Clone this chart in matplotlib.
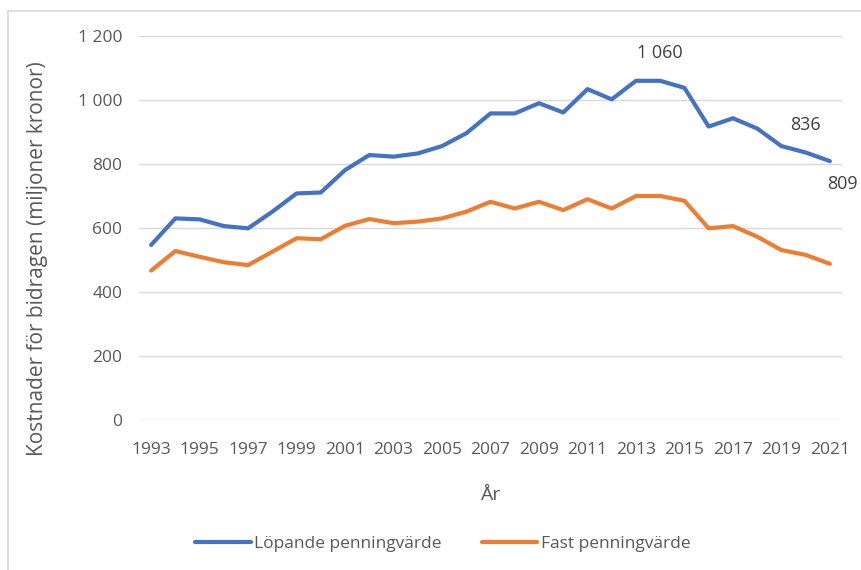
import matplotlib.pyplot as plt
from matplotlib.lines import Line2D
from matplotlib.ticker import FuncFormatter

plt.rcParams['font.family'] = ['Open Sans', 'DejaVu Sans']

years = list(range(1993, 2022))
lopande = [547, 630, 627, 606, 599, 651, 708, 711, 781, 828, 823, 833, 856, 896,
           958, 958, 990, 961, 1034, 1002, 1060, 1060, 1038, 917, 943, 911, 856, 836, 809]
fast = [467, 528, 510, 493, 484, 526, 568, 565, 607, 628, 615, 620, 630, 651,
        682, 661, 682, 656, 690, 661, 700, 700, 685, 599, 606, 573, 531, 516, 488]
year_ticks = list(range(1993, 2022, 2))
y_ticks = [0, 200, 400, 600, 800, 1000, 1200]
labelled = {2014: ('1 060', 28), 2020: ('836', 27), 2021: ('809', -23)}

blue = '#4472C4'
orange = '#ED7D31'
txt = '#595959'

fig = plt.figure(figsize=(8.62, 5.7), dpi=100)
ax = fig.add_axes([139 / 862, 1 - 420 / 570, (842 - 139) / 862, (420 - 36) / 570])

ax.plot(years, lopande, color=blue, lw=3, solid_capstyle='round', label='Löpande penningvärde')
ax.plot(years, fast, color=orange, lw=3, solid_capstyle='round', label='Fast penningvärde')

ax.set_xlim(1992.5, 2021.5)
ax.set_ylim(0, 1200)
ax.set_xticks(year_ticks)
ax.set_yticks(y_ticks)
ax.yaxis.set_major_formatter(FuncFormatter(lambda v, p: f'{int(v):,}'.replace(',', ' ')))
ax.grid(axis='y', color='#D9D9D9', lw=1)
ax.set_axisbelow(True)
for s in ax.spines.values():
    s.set_visible(False)
ax.tick_params(length=0, labelsize=12.5, labelcolor=txt)
ax.tick_params(axis='x', pad=16)
ax.tick_params(axis='y', pad=12)

for yr, (lab, off) in labelled.items():
    val = lopande[years.index(yr)]
    dx = 13 if yr == 2021 else 0
    ax.annotate(lab, (yr, val), xytext=(dx * 0.72, off * 0.72), textcoords='offset points',
                ha='center', va='center', fontsize=13, color='#404040', annotation_clip=False)

ax.set_xlabel('År', fontsize=14, color=txt, labelpad=20)
fig.text(38 / 862, 1 - 259 / 570, 'Kostnader för bidragen (miljoner kronor)', rotation=90,
         ha='center', va='center', fontsize=15, color=txt)

fig.legend(loc='center', bbox_to_anchor=(443 / 862, 1 - 544 / 570), ncol=2, frameon=False,
           fontsize=12.5, labelcolor=txt, handlelength=3.2, handletextpad=0.2, columnspacing=2.3)

# chart border (cut by image edges)
fig.add_artist(Line2D([8 / 862, 8 / 862], [0, 1 - 11 / 570], color='#D9D9D9', lw=1.2))
fig.add_artist(Line2D([8 / 862, 1], [1 - 11 / 570, 1 - 11 / 570], color='#D9D9D9', lw=1.2))

fig.savefig('out.png', dpi=100)
